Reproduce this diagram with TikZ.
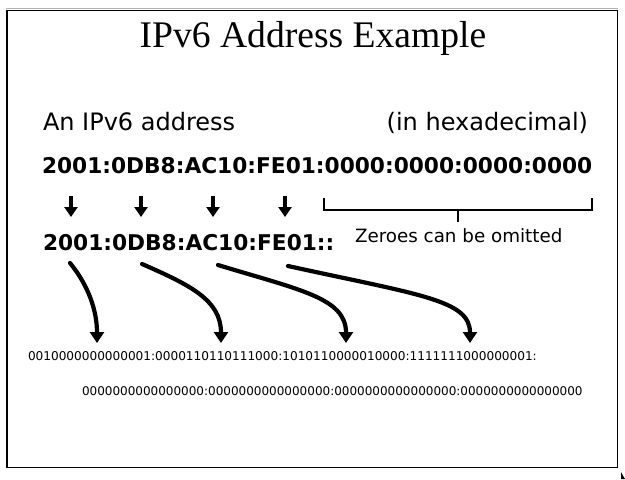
\documentclass[tikz,border=0pt]{standalone}
\usepackage{fontspec}
\setmainfont{Liberation Serif}
\newfontfamily\dv{DejaVu Sans}
\usetikzlibrary{arrows.meta}
\tikzset{
  txt/.style={inner sep=0pt, outer sep=0pt},
  bigarrow/.style={line width=3.6pt, -{Triangle[width=13pt,length=10pt]}},
  curvearrow/.style={line width=4.2pt, line cap=round, -{Triangle[width=14pt,length=11pt]}},
  bracketline/.style={line width=1.3pt},
}
\begin{document}
\begin{tikzpicture}[x=1pt,y=-1pt]
\useasboundingbox (0,0) rectangle (625,480);
\fill[white] (0,0) rectangle (625,480);
% frame
\draw[gray!60, line width=1pt] (6,8.5) -- (618,8.5);
\draw[black, line width=1.4pt] (7,10.5) rectangle (617.5,467.5);
\fill[black] (621,472) -- (621,479) -- (625,479) -- cycle;
% title
\node[txt, anchor=base] (title) at (313,47) {\fontsize{37.6}{40}\selectfont IPv6 Address Example};
% labels
\node[txt, anchor=base west] (lbl) at (43,130) {\dv\fontsize{24}{26}\selectfont An IPv6 address};
\node[txt, anchor=base east] (hex) at (588,130) {\dv\fontsize{24}{26}\selectfont (in hexadecimal)};
% full address
\node[txt, anchor=base west] (full) at (42,173) {\dv\bfseries\fontsize{21.7}{24}\selectfont 2001:0DB8:AC10:FE01:0000:0000:0000:0000};
% short address
\node[txt, anchor=base west] (short) at (43,250) {\dv\bfseries\fontsize{21.7}{24}\selectfont 2001:0DB8:AC10:FE01::};
% straight arrows
\foreach \i/\x in {1/71,2/141,3/213,4/285}{
  \coordinate (sa\i) at (\x,196);
  \coordinate (sb\i) at (\x,217);
  \draw[bigarrow] (sa\i) -- (sb\i);
}
% bracket
\coordinate (bl) at (324,198);
\coordinate (br) at (592,198);
\coordinate (bt) at (458,210);
\coordinate (btk) at (458,222);
\draw[bracketline] (bl) -- (324,210) -- (592,210) -- (br);
\draw[bracketline] (bt) -- (btk);
\node[txt, anchor=base west] (zero) at (355,242) {\dv\fontsize{18.3}{20}\selectfont Zeroes can be omitted};
% binary
\node[txt, anchor=base west] (bin1) at (28,360) {\dv\fontsize{12.1}{14}\selectfont 0010000000000001:0000110110111000:1010110000010000:1111111000000001:};
\node[txt, anchor=base west] (bin2) at (82,395) {\dv\fontsize{12.0}{14}\selectfont 0000000000000000:0000000000000000:0000000000000000:0000000000000000};
% curved arrows
\coordinate (c1s) at (70,263);
\coordinate (c1e) at (97,343);
\coordinate (c2s) at (142,264);
\coordinate (c2e) at (221,343);
\coordinate (c3s) at (218,265);
\coordinate (c3e) at (346,343);
\coordinate (c4s) at (288,266);
\coordinate (c4e) at (470,343);
\draw[curvearrow] (c1s) .. controls (88,285) and (97,310) .. (c1e);
\draw[curvearrow] (c2s) .. controls (190,285) and (221,300) .. (c2e);
\draw[curvearrow] (c3s) .. controls (300,290) and (346,298) .. (c3e);
\draw[curvearrow] (c4s) .. controls (420,295) and (470,300) .. (c4e);
\end{tikzpicture}
\end{document}
